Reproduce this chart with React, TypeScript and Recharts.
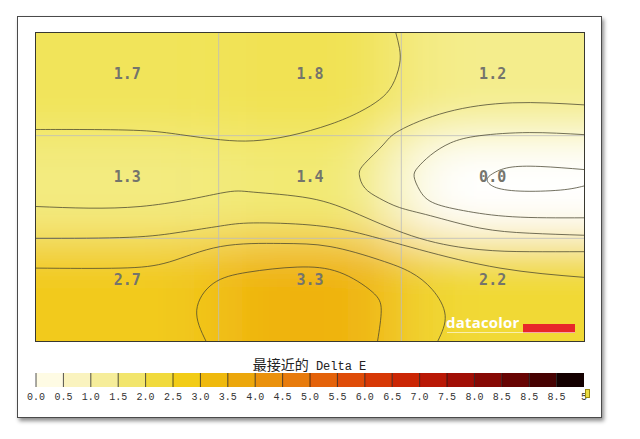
import {
  ScatterChart,
  Scatter,
  XAxis,
  YAxis,
  ReferenceArea,
  ReferenceLine,
} from 'recharts'

// measured Delta E, one array per row (top to bottom)
const rowTop = [1.7, 1.8, 1.2]
const rowMiddle = [1.3, 1.4, 0.0]
const rowBottom = [2.7, 3.3, 2.2]
const rows = [rowTop, rowMiddle, rowBottom]

// contour lines, x = column units, y = row units (0 at top)
const contourA = [
  { x: 0, y: 0.94 }, { x: 0.24, y: 0.94 }, { x: 0.57, y: 0.95 }, { x: 0.79, y: 0.99 },
  { x: 1.01, y: 1.04 }, { x: 1.19, y: 1.05 }, { x: 1.39, y: 1.0 }, { x: 1.61, y: 0.89 },
  { x: 1.77, y: 0.77 }, { x: 1.88, y: 0.65 }, { x: 1.95, y: 0.51 }, { x: 1.99, y: 0.31 },
  { x: 1.99, y: 0.15 }, { x: 1.97, y: 0 },
]
const contourB = [
  { x: 3, y: 0.7 }, { x: 2.61, y: 0.68 }, { x: 2.25, y: 0.77 }, { x: 1.99, y: 0.95 },
  { x: 1.9, y: 1.09 }, { x: 1.8, y: 1.27 }, { x: 1.77, y: 1.38 }, { x: 1.8, y: 1.51 },
  { x: 1.88, y: 1.61 }, { x: 1.99, y: 1.7 }, { x: 2.16, y: 1.78 }, { x: 2.43, y: 1.9 },
  { x: 2.7, y: 1.95 }, { x: 3, y: 1.97 },
]
const contourC = [
  { x: 3, y: 0.99 }, { x: 2.7, y: 0.97 }, { x: 2.43, y: 1.0 }, { x: 2.27, y: 1.07 },
  { x: 2.16, y: 1.19 }, { x: 2.09, y: 1.31 }, { x: 2.07, y: 1.4 }, { x: 2.1, y: 1.53 },
  { x: 2.17, y: 1.65 }, { x: 2.34, y: 1.73 }, { x: 2.61, y: 1.79 }, { x: 3, y: 1.8 },
]
const contourD = [
  { x: 3, y: 1.33 }, { x: 2.76, y: 1.3 }, { x: 2.59, y: 1.31 }, { x: 2.5, y: 1.37 },
  { x: 2.47, y: 1.43 }, { x: 2.51, y: 1.5 }, { x: 2.65, y: 1.54 }, { x: 2.87, y: 1.53 },
  { x: 3, y: 1.49 },
]
const contourE = [
  { x: 0, y: 1.69 }, { x: 0.57, y: 1.69 }, { x: 1.01, y: 1.56 }, { x: 1.19, y: 1.55 },
  { x: 1.5, y: 1.61 }, { x: 1.77, y: 1.77 }, { x: 2.1, y: 2.0 }, { x: 2.43, y: 2.11 },
  { x: 2.7, y: 2.13 }, { x: 3, y: 2.13 },
]
const contourF = [
  { x: 0, y: 2.0 }, { x: 0.51, y: 1.99 }, { x: 0.79, y: 1.94 }, { x: 1.01, y: 1.88 },
  { x: 1.19, y: 1.85 }, { x: 1.5, y: 1.87 }, { x: 1.77, y: 1.95 }, { x: 2.1, y: 2.11 },
  { x: 2.54, y: 2.29 }, { x: 3, y: 2.38 },
]
const contourG = [
  { x: 0, y: 2.29 }, { x: 0.46, y: 2.29 }, { x: 0.73, y: 2.23 }, { x: 1.01, y: 2.08 },
  { x: 1.34, y: 2.05 }, { x: 1.61, y: 2.08 }, { x: 1.88, y: 2.21 }, { x: 2.05, y: 2.33 },
  { x: 2.17, y: 2.5 }, { x: 2.24, y: 2.75 }, { x: 2.2, y: 3 },
]
const contourH = [
  { x: 0.93, y: 3 }, { x: 0.88, y: 2.7 }, { x: 0.97, y: 2.44 }, { x: 1.16, y: 2.33 },
  { x: 1.43, y: 2.28 }, { x: 1.66, y: 2.33 }, { x: 1.84, y: 2.52 }, { x: 1.89, y: 2.7 },
  { x: 1.87, y: 3 },
]
const contours = [contourA, contourB, contourC, contourD, contourE, contourF, contourG, contourH]

const gridLines = [1, 2]

// colour bar
const barLabels = [
  '0.0', '0.5', '1.0', '1.5', '2.0', '2.5', '3.0', '3.5', '4.0', '4.5', '5.0',
  '5.5', '6.0', '6.5', '7.0', '7.5', '8.0', '8.5', '8.5', '8.5', '5',
]
const barColors = [
  '#fefbe4', '#faf3bf', '#f6ed9a', '#f2e56c', '#f1da3c', '#f2cc16', '#efb90d', '#eca70b',
  '#ea910c', '#e77b0c', '#e4620a', '#df4c08', '#d73806', '#cb2605', '#b91805', '#a10e05',
  '#860804', '#680403', '#470202', '#140000',
]

const heatStops: [number, string][] = [
  [0, '#ffffff'],
  [0.5, '#fcf8d4'],
  [1.0, '#f6f0a2'],
  [1.5, '#f1e86a'],
  [2.0, '#f1de42'],
  [2.5, '#f2d124'],
  [3.0, '#f1c012'],
  [3.5, '#eeaa06'],
]

function hexToRgb(h: string) {
  return [1, 3, 5].map((i) => parseInt(h.slice(i, i + 2), 16))
}

function heatColor(v: number) {
  for (let i = 0; i < heatStops.length - 1; i++) {
    const [v0, c0] = heatStops[i]
    const [v1, c1] = heatStops[i + 1]
    if (v <= v1) {
      const t = Math.max(0, (v - v0) / (v1 - v0))
      const a = hexToRgb(c0)
      const b = hexToRgb(c1)
      const m = a.map((x, k) => Math.round(x + (b[k] - x) * t))
      return `rgb(${m.join(',')})`
    }
  }
  return heatStops[heatStops.length - 1][1]
}

const cells = rows.flatMap((row, r) => row.map((v, c) => ({ x: c + 0.5, y: r + 0.5, c, r, v })))

// plot area 548x308; heat layer is drawn larger and blurred, then clipped
const EXT = 0.75

function ValueLabel(props: any) {
  const { cx, cy, payload } = props
  return (
    <text
      x={cx}
      y={cy - 10}
      textAnchor="middle"
      dominantBaseline="central"
      fontFamily="'DejaVu Sans Mono', monospace"
      fontWeight="bold"
      fontSize={15}
      fill="#74746c"
    >
      {payload.v.toFixed(1)}
    </text>
  )
}

export default function App() {
  return (
    <div
      style={{
        position: 'fixed',
        left: 0,
        top: 0,
        width: 640,
        height: 439,
        background: '#fff',
        overflow: 'hidden',
      }}
    >
      <svg width={0} height={0} style={{ position: 'absolute' }}>
        <defs>
          <filter id="heatBlur" x="-10%" y="-10%" width="120%" height="120%">
            <feGaussianBlur stdDeviation="36 24" />
          </filter>
        </defs>
      </svg>

      {/* window frame */}
      <div
        style={{
          position: 'absolute',
          left: 17,
          top: 16,
          width: 583,
          height: 400,
          border: '1px solid #4a4a4a',
          boxShadow: '2px 3px 4px rgba(0,0,0,0.45)',
          background: '#fff',
        }}
      />

      {/* heat field */}
      <div
        style={{
          position: 'absolute',
          left: 36,
          top: 33,
          width: 548,
          height: 308,
          overflow: 'hidden',
        }}
      >
        <div style={{ position: 'absolute', left: -137, top: -77, filter: 'url(#heatBlur)' }}>
          <ScatterChart width={822} height={462} margin={{ top: 0, right: 0, bottom: 0, left: 0 }}>
            <XAxis type="number" dataKey="x" domain={[-EXT, 3 + EXT]} hide />
            <YAxis type="number" dataKey="y" domain={[-EXT, 3 + EXT]} reversed hide />
            {cells.map((d) => (
              <ReferenceArea
                key={`${d.c}-${d.r}`}
                x1={d.c === 0 ? -EXT : d.c}
                x2={d.c === 2 ? 3 + EXT : d.c + 1}
                y1={d.r === 0 ? -EXT : d.r}
                y2={d.r === 2 ? 3 + EXT : d.r + 1}
                fill={heatColor(d.v)}
                fillOpacity={1}
                stroke="none"
              />
            ))}
            <Scatter data={cells} shape={() => <g />} isAnimationActive={false} />
          </ScatterChart>
        </div>
      </div>

      {/* contours, grid, values */}
      <div style={{ position: 'absolute', left: 36, top: 33 }}>
        <ScatterChart width={548} height={308} margin={{ top: 0, right: 0, bottom: 0, left: 0 }}>
          <XAxis type="number" dataKey="x" domain={[0, 3]} hide allowDataOverflow />
          <YAxis type="number" dataKey="y" domain={[0, 3]} reversed hide allowDataOverflow />
          {gridLines.map((g) => (
            <ReferenceLine key={`vx${g}`} x={g} stroke="#bdbdbd" strokeOpacity={0.8} />
          ))}
          {gridLines.map((g) => (
            <ReferenceLine key={`hy${g}`} y={g} stroke="#bdbdbd" strokeOpacity={0.8} />
          ))}
          {contours.map((pts, i) => (
            <Scatter
              key={i}
              data={pts}
              fill="#555"
              line={{ stroke: '#45432e', strokeWidth: 1, strokeOpacity: 0.75 }}
              lineJointType="natural"
              shape={() => <g />}
              isAnimationActive={false}
            />
          ))}
          <Scatter data={cells} shape={<ValueLabel />} isAnimationActive={false} />
        </ScatterChart>
      </div>

      {/* plot border */}
      <div
        style={{
          position: 'absolute',
          left: 35,
          top: 32,
          width: 548,
          height: 308,
          border: '1px solid #383830',
        }}
      />

      {/* datacolor logo */}
      <div
        style={{
          position: 'absolute',
          left: 446,
          top: 313,
          fontFamily: "'Open Sans', sans-serif",
          fontWeight: 700,
          fontSize: 15,
          color: '#fff',
          letterSpacing: 0.2,
          lineHeight: '18px',
        }}
      >
        datacolor
      </div>
      <div
        style={{ position: 'absolute', left: 523, top: 324, width: 52, height: 9, background: '#e8262a' }}
      />
      <div
        style={{
          position: 'absolute',
          left: 447,
          top: 332,
          width: 128,
          height: 1,
          background: 'rgba(255,255,255,0.6)',
        }}
      />

      {/* title */}
      <div
        style={{
          position: 'absolute',
          left: 0,
          top: 355,
          width: 619,
          textAlign: 'center',
          fontSize: 14,
          lineHeight: '18px',
          color: '#222',
        }}
      >
        <span style={{ fontFamily: "'Noto Sans CJK SC', sans-serif" }}>最接近的</span>
        <span style={{ fontFamily: "'Liberation Mono', monospace", fontSize: 12 }}> Delta E</span>
      </div>

      {/* colour bar */}
      <div style={{ position: 'absolute', left: 10, top: 373 }}>
        <ScatterChart width={600} height={34} margin={{ top: 0, right: 26, bottom: 0, left: 26 }}>
          <XAxis
            type="number"
            dataKey="x"
            domain={[0, barColors.length]}
            ticks={barLabels.map((_, i) => i)}
            interval={0}
            tickFormatter={(i: number) => barLabels[i]}
            tickLine={false}
            axisLine={false}
            tickSize={4}
            tickMargin={2}
            height={20}
            tick={{ fontSize: 10, fill: '#333', fontFamily: "'Liberation Mono', monospace" }}
          />
          <YAxis type="number" dataKey="y" domain={[0, 1]} hide />
          {barColors.map((c, i) => (
            <ReferenceArea key={i} x1={i} x2={i + 1} y1={0} y2={1} fill={c} fillOpacity={1} stroke="none" />
          ))}
          {barColors.map((_, i) => (
            <ReferenceLine key={`t${i}`} x={i} stroke="#1a1a1a" strokeOpacity={0.75} />
          ))}
          <Scatter
            data={barColors.map((_, i) => ({ x: i + 0.5, y: 0.5 }))}
            shape={() => <g />}
            isAnimationActive={false}
          />
        </ScatterChart>
      </div>
      <div
        style={{
          position: 'absolute',
          left: 585,
          top: 389,
          width: 3,
          height: 7,
          background: '#eadc40',
          border: '1px solid #9a8a10',
        }}
      />
    </div>
  )
}
